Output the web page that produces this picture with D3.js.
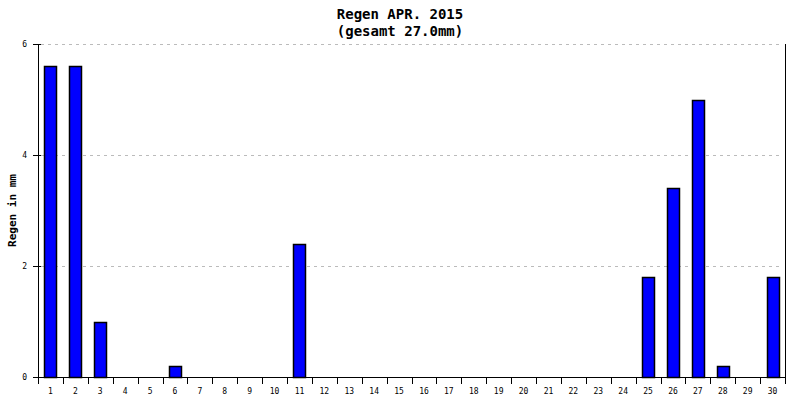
<!DOCTYPE html>
<html>
<head>
<meta charset="utf-8">
<script src="https://cdn.jsdelivr.net/npm/d3@7"></script>
<style>
  body { margin: 0; background: #fff; }
  svg text { font-family: "DejaVu Sans Mono", monospace; }
</style>
</head>
<body>
<div class="chart"></div>
<script>
// data
var days = d3.range(1, 31).map(String);
var rain = [5.6, 5.6, 1.0, 0, 0, 0.2, 0, 0, 0, 0,
            2.4, 0, 0, 0, 0, 0, 0, 0, 0, 0,
            0, 0, 0, 0, 1.8, 3.4, 5.0, 0.2, 0, 1.8];
var yTicks = [0, 2, 4, 6];
var titleLines = ['Regen APR. 2015', '(gesamt 27.0mm)'];
var yLabel = 'Regen in mm';

/*---------------------------------------------------------------
set width + height
---------------------------------------------------------------*/
var w = 800, h = 400;
var m = { top: 44, right: 15, bottom: 23, left: 38 };

var svg = d3.select('.chart')
    .append('svg')
    .attr('width', w)
    .attr('height', h);

var x = d3.scaleBand()
    .domain(days)
    .range([m.left, w - m.right])
    .paddingInner(0.52)
    .paddingOuter(0.26);

var y = d3.scaleLinear()
    .domain([0, 6])
    .range([h - m.bottom, m.top]);

// grid lines
svg.append('g')
    .selectAll('line')
    .data(yTicks.filter(function(d) { return d > 0; }))
    .enter()
    .append('line')
    .attr('x1', m.left + 3)
    .attr('x2', w - m.right - 3)
    .attr('y1', function(d) { return Math.round(y(d)) + 0.5; })
    .attr('y2', function(d) { return Math.round(y(d)) + 0.5; })
    .attr('stroke', '#bbb')
    .attr('stroke-dasharray', '3,4');

// bars (only days with rain)
var barData = rain.map(function(v, i) { return { day: days[i], v: v }; })
    .filter(function(d) { return d.v > 0; });

svg.selectAll('rect.bar')
    .data(barData)
    .enter()
    .append('rect')
    .attr('class', 'bar')
    .attr('x', function(d) { return Math.round(x(d.day)) + 0.5; })
    .attr('y', function(d) { return Math.round(y(d.v)) + 0.5; })
    .attr('width', Math.round(x.bandwidth()))
    .attr('height', function(d) { return Math.round(y(0)) - Math.round(y(d.v)); })
    .attr('fill', '#0000ff')
    .attr('stroke', '#000')
    .attr('stroke-width', 1.5);

// x axis
var xTickPos = d3.range(0, 31).map(function(i) { return m.left + i * x.step(); });
var xa = svg.append('g');
xa.append('line')
    .attr('x1', m.left).attr('x2', w - m.right)
    .attr('y1', y(0) + 0.5).attr('y2', y(0) + 0.5)
    .attr('stroke', '#000');
xa.selectAll('line.tick')
    .data(xTickPos)
    .enter()
    .append('line')
    .attr('class', 'tick')
    .attr('x1', function(d) { return Math.round(d) + 0.5; })
    .attr('x2', function(d) { return Math.round(d) + 0.5; })
    .attr('y1', y(0)).attr('y2', y(0) + 7)
    .attr('stroke', '#000');
xa.selectAll('text')
    .data(days)
    .enter()
    .append('text')
    .attr('x', function(d) { return x(d) + x.bandwidth() / 2; })
    .attr('y', y(0) + 17)
    .attr('text-anchor', 'middle')
    .attr('font-size', 8)
    .text(function(d) { return d; });

// y axis
var ya = svg.append('g');
ya.append('line')
    .attr('x1', m.left + 0.5).attr('x2', m.left + 0.5)
    .attr('y1', y(6)).attr('y2', y(0) + 7)
    .attr('stroke', '#000');
ya.selectAll('line.tick')
    .data(yTicks)
    .enter()
    .append('line')
    .attr('class', 'tick')
    .attr('x1', m.left - 5).attr('x2', m.left + 3)
    .attr('y1', function(d) { return Math.round(y(d)) + 0.5; })
    .attr('y2', function(d) { return Math.round(y(d)) + 0.5; })
    .attr('stroke', '#000');
ya.selectAll('text')
    .data(yTicks)
    .enter()
    .append('text')
    .attr('x', m.left - 11)
    .attr('y', function(d) { return y(d) + 3; })
    .attr('text-anchor', 'end')
    .attr('font-size', 8)
    .text(function(d) { return d; });

// right border
svg.append('line')
    .attr('x1', w - m.right + 0.5).attr('x2', w - m.right + 0.5)
    .attr('y1', y(6)).attr('y2', y(0) + 7)
    .attr('stroke', '#000');

// y label
svg.append('text')
    .attr('transform', 'translate(16,' + ((y(0) + y(6)) / 2) + ') rotate(-90)')
    .attr('text-anchor', 'middle')
    .attr('font-size', 11)
    .attr('font-weight', 'bold')
    .text(yLabel);

// title
svg.selectAll('text.title')
    .data(titleLines)
    .enter()
    .append('text')
    .attr('class', 'title')
    .attr('x', w / 2)
    .attr('y', function(d, i) { return 19 + i * 17; })
    .attr('text-anchor', 'middle')
    .attr('font-size', 14)
    .attr('font-weight', 'bold')
    .text(function(d) { return d; });
</script>
</body>
</html>
